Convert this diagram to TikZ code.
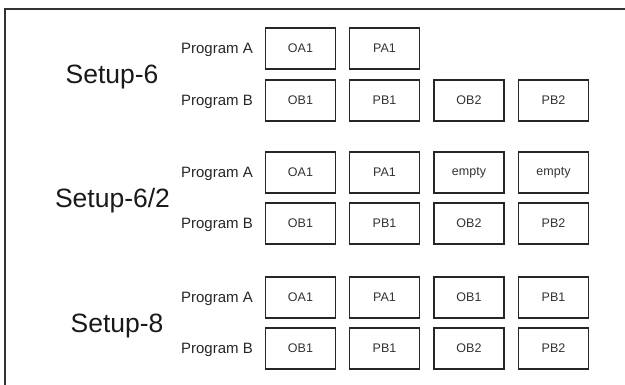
\documentclass[tikz,border=0pt]{standalone}
\usepackage{fontspec}
\setmainfont{Liberation Sans}
\usetikzlibrary{shadows}
\begin{document}
\begin{tikzpicture}[x=1pt,y=1pt,
  slot/.style={draw=black!85, line width=1.3pt, fill=white, minimum width=70pt, minimum height=41pt,
    inner sep=0pt, font=\fontsize{12.5}{14}\selectfont, text=black!80,
    drop shadow={opacity=0.25, shadow xshift=0.8pt, shadow yshift=-0.8pt}},
  prog/.style={anchor=base east, font=\fontsize{15}{17}\selectfont, text=black!85, inner sep=0pt},
  setup/.style={anchor=base, font=\fontsize{26.5}{30}\selectfont, text=black!90, inner sep=0pt}]
\useasboundingbox (0,0) rectangle (625,385);
% outer frame (left and top edges)
\draw[line width=1.2pt, black!80] (5,-2) -- (5,376) -- (627,376);

% Setup-6
\node[setup] (t6) at (112,301) {Setup-6};
\node[prog] (p6a) at (253,331) {Program A};
\node[prog] (p6b) at (253,279) {Program B};
\node[slot] (s6a1) at (300.5,336.5) {OA1};
\node[slot] (s6a2) at (384.5,336.5) {PA1};
\node[slot] (s6b1) at (300.5,284.5) {OB1};
\node[slot] (s6b2) at (384.5,284.5) {PB1};
\node[slot] (s6b3) at (469,284.5) {OB2};
\node[slot] (s6b4) at (553.5,284.5) {PB2};

% Setup-6/2
\node[setup] (t62) at (112.5,177) {Setup-6/2};
\node[prog] (p62a) at (253,207) {Program A};
\node[prog] (p62b) at (253,156) {Program B};
\node[slot] (s62a1) at (300.5,212.5) {OA1};
\node[slot] (s62a2) at (384.5,212.5) {PA1};
\node[slot] (s62a3) at (469,212.5) {empty};
\node[slot] (s62a4) at (553.5,212.5) {empty};
\node[slot] (s62b1) at (300.5,161.5) {OB1};
\node[slot] (s62b2) at (384.5,161.5) {PB1};
\node[slot] (s62b3) at (469,161.5) {OB2};
\node[slot] (s62b4) at (553.5,161.5) {PB2};

% Setup-8
\node[setup] (t8) at (117,52) {Setup-8};
\node[prog] (p8a) at (253,82) {Program A};
\node[prog] (p8b) at (253,31) {Program B};
\node[slot] (s8a1) at (300.5,87.5) {OA1};
\node[slot] (s8a2) at (384.5,87.5) {PA1};
\node[slot] (s8a3) at (469,87.5) {OB1};
\node[slot] (s8a4) at (553.5,87.5) {PB1};
\node[slot] (s8b1) at (300.5,36.5) {OB1};
\node[slot] (s8b2) at (384.5,36.5) {PB1};
\node[slot] (s8b3) at (469,36.5) {OB2};
\node[slot] (s8b4) at (553.5,36.5) {PB2};
\end{tikzpicture}
\end{document}
